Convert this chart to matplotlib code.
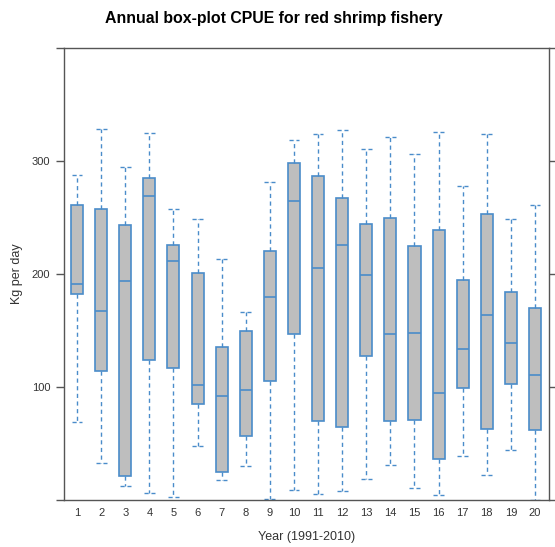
import matplotlib
matplotlib.use("Agg")
import matplotlib.pyplot as plt

years = list(range(1, 21))
whislo = [69, 32.5, 12, 6, 3, 48, 18, 30, 1, 9, 5.6, 8, 19, 31, 11, 4, 39, 22, 44.5, 0]
q1 =     [182, 114, 21, 124, 117, 85, 24.5, 57, 105, 147, 70, 65, 127, 70, 71, 36, 99.5, 63, 102.5, 62]
med =    [191, 167, 194, 269, 211.5, 101.5, 92, 97, 180, 264.5, 205, 226, 199.5, 147, 148, 94.5, 133.5, 163.5, 138.5, 111]
q3 =     [261, 257.5, 243, 285, 225.5, 200.5, 135, 150, 220, 298.5, 286.5, 267, 244.5, 249.5, 225, 238.5, 194.5, 253.5, 184, 169.5]
whishi = [288, 328, 295, 324.5, 257.5, 249, 213, 166, 281, 318.5, 324, 327, 311, 321, 306, 326, 277.5, 323.5, 248.5, 261.5]

title = "Annual box-plot CPUE for red shrimp fishery"
xlabel = "Year (1991-2010)"
ylabel = "Kg per day"

plt.rcParams['font.family'] = ['Liberation Sans', 'DejaVu Sans']

fig = plt.figure(figsize=(5.55, 5.47), dpi=100)
ax = fig.add_axes([64/555, 47/547, (549-64)/555, (500-48)/547])

stats = []
for i in range(len(years)):
    stats.append(dict(whislo=whislo[i], q1=q1[i], med=med[i], q3=q3[i], whishi=whishi[i], fliers=[]))

blue = '#4a8cca'
ax.bxp(stats, positions=years, widths=0.5, capwidths=0.45, patch_artist=True, showfliers=False,
       boxprops=dict(facecolor='#bebebe', edgecolor=blue, linewidth=1.2),
       medianprops=dict(color=blue, linewidth=1.2),
       whiskerprops=dict(color=blue, linestyle=(0, (3, 2.5)), linewidth=1.0),
       capprops=dict(color=blue, linestyle=(0, (3, 2)), linewidth=1.0))

ax.set_xlim(0.46, 20.58)
ax.set_ylim(0, 400)
ax.set_xticks(years)
ax.set_xticklabels([str(y) for y in years])
ax.set_yticks([0, 100, 200, 300, 400])
ax.set_yticklabels(['', '100', '200', '300', ''])
ax.tick_params(axis='x', length=0, pad=6, labelsize=8, colors='#333333')
ax.tick_params(axis='y', length=6, width=1, pad=4, labelsize=8, colors='#555555', labelcolor='#333333',
               right=True, direction='out')
for s in ax.spines.values():
    s.set_color('#555555')
    s.set_linewidth(1.0)

ax.set_xlabel(xlabel, fontsize=9, color='#333333', labelpad=9)
ax.set_ylabel(ylabel, fontsize=9, color='#333333', labelpad=6)
fig.text(0.494, 1 - 18/547, title, ha='center', va='center', fontsize=11.4, fontweight='bold')

fig.savefig('out.png', dpi=100)
